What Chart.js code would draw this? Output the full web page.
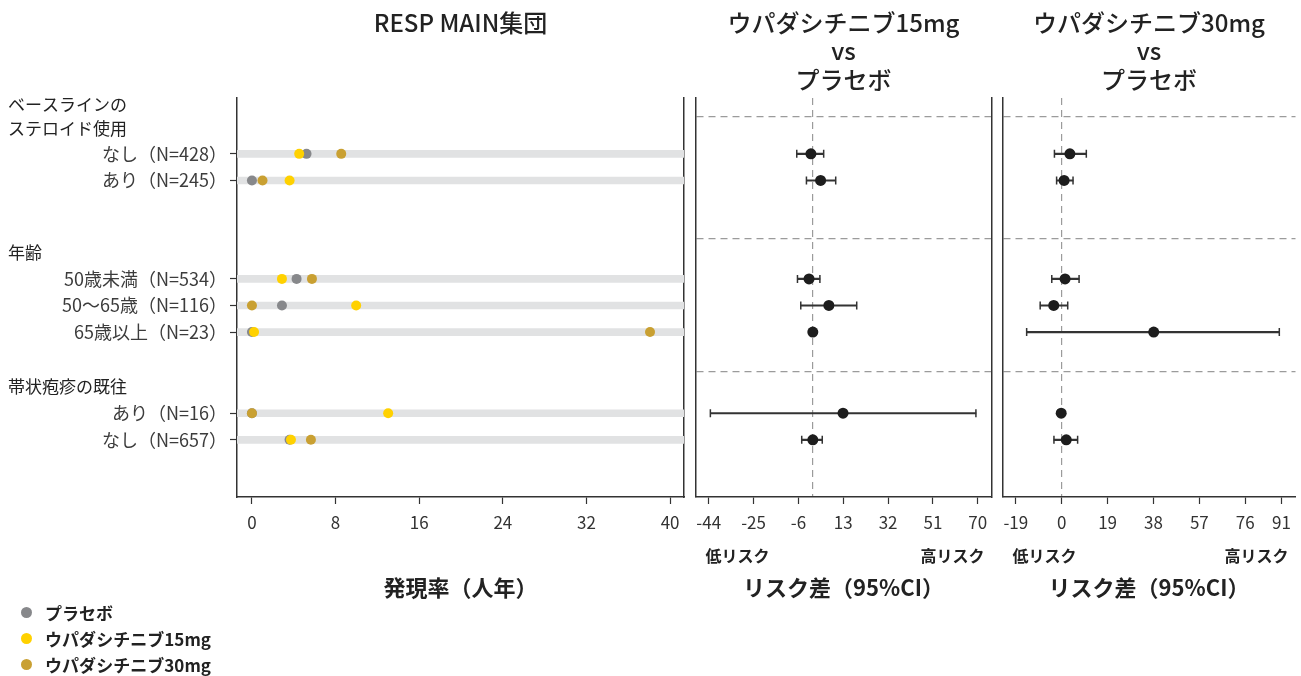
<!DOCTYPE html>
<html lang="ja">
<head>
<meta charset="utf-8">
<title>RESP MAIN集団</title>
<script src="https://cdn.jsdelivr.net/npm/chart.js@4.4.1/dist/chart.umd.min.js"></script>
<style>
  body { margin: 0; width: 1301px; height: 676px; background: #fff; position: relative; overflow: hidden;
         font-family: "Noto Sans CJK JP", "Noto Sans", sans-serif; }
  .panel { position: absolute; top: 0; }
  #legend { position: absolute; left: 21px; top: 600px; }
  #legend .item { display: flex; align-items: center; height: 25.8px; font-size: 17px; font-weight: bold; color: #222; }
  #legend .dot { width: 11px; height: 11px; border-radius: 50%; margin-right: 13px; }
</style>
</head>
<body>
<canvas id="rate-chart" class="panel" style="left:0" width="690" height="610"></canvas>
<canvas id="diff15-chart" class="panel" style="left:690px" width="307" height="610"></canvas>
<canvas id="diff30-chart" class="panel" style="left:997px" width="304" height="610"></canvas>
<div id="legend"></div>

<script>
// 行ラベルと位置（行単位）
const rowLabels = ['なし（N=428）', 'あり（N=245）', '50歳未満（N=534）', '50～65歳（N=116）', '65歳以上（N=23）', 'あり（N=16）', 'なし（N=657）'];
const rowY = [1.4, 2.4, 6.1, 7.1, 8.1, 11.15, 12.15];
const sectionTitles = [['ベースラインの', 'ステロイド使用'], ['年齢'], ['帯状疱疹の既往']];
const sectionTitleY = [0, 5.1, 10.15];
const sepY = [0, 4.6, 9.6];
const yMin = -0.7, yMax = 14.3;

// 凡例
const seriesNames = ['プラセボ', 'ウパダシチニブ15mg', 'ウパダシチニブ30mg'];
const seriesColors = ['#87888b', '#ffd100', '#c9a032'];

// 発現率（人年）
const placeboRate = [5.22, 0, 4.27, 2.87, 0, 0, 3.6];
const upa15Rate = [4.52, 3.6, 2.87, 9.97, 0.2, 13.03, 3.73];
const upa30Rate = [8.54, 1.01, 5.74, 0, 38.08, 0, 5.64];
const rateTicks = [0, 8, 16, 24, 32, 40];
const rateRange = [-1.43, 41.33];

// リスク差（95%CI）
const diff15Est = [-0.7, 3.4, -1.5, 6.9, 0.1, 12.9, 0.1];
const diff15Lo = [-6.7, -2.6, -6.4, -5.0, null, -43.3, -4.6];
const diff15Hi = [4.7, 9.8, 3.1, 18.7, null, 69.2, 4.1];
const diff15Ticks = [-44, -25, -6, 13, 32, 51, 70];
const diff15Range = [-49.6, 75.8];

const diff30Est = [3.4, 1.0, 1.4, -3.3, 38.1, -0.2, 1.9];
const diff30Lo = [-3.0, -2.1, -4.1, -8.9, -14.5, null, -3.2];
const diff30Hi = [10.2, 4.7, 7.2, 2.5, 90.1, null, 6.6];
const diff30Ticks = [-19, 0, 19, 38, 57, 76, 91];
const diff30Range = [-24.5, 96.8];

const rateTitle = 'RESP MAIN集団';
const diff15Title = ['ウパダシチニブ15mg', 'vs', 'プラセボ'];
const diff30Title = ['ウパダシチニブ30mg', 'vs', 'プラセボ'];
const rateAxisTitle = '発現率（人年）';
const diffAxisTitle = 'リスク差（95%CI）';
const riskLabels = ['低リスク', '高リスク'];

Chart.defaults.font.family = '"Noto Sans CJK JP", "Noto Sans", sans-serif';
Chart.defaults.color = '#333';

const axisHeight = 113;   // 下軸の高さ（プロット下端 497px）

// 区分見出し（左パネル）
const sectionTitlePlugin = {
    id: 'sectionTitles',
    afterDraw(chart) {
        const { ctx, scales: { y } } = chart;
        ctx.save();
        ctx.font = '17px "Noto Sans CJK JP"';
        ctx.fillStyle = '#222';
        ctx.textBaseline = 'middle';
        ctx.textAlign = 'left';
        sectionTitles.forEach((lines, i) => {
            const cy = y.getPixelForValue(sectionTitleY[i]);
            lines.forEach((line, j) => {
                ctx.fillText(line, 8, cy + (j - (lines.length - 1) / 2) * 23.5);
            });
        });
        ctx.restore();
    }
};

// 低リスク / 高リスク
const riskLabelPlugin = {
    id: 'riskLabels',
    afterDraw(chart) {
        const { ctx, chartArea } = chart;
        const y = chartArea.bottom + 59;
        ctx.save();
        ctx.font = 'bold 16px "Noto Sans CJK JP"';
        ctx.fillStyle = '#222';
        ctx.textBaseline = 'middle';
        ctx.textAlign = 'left';
        ctx.fillText(riskLabels[0], chartArea.left + 10, y);
        ctx.textAlign = 'right';
        ctx.fillText(riskLabels[1], chartArea.right - 7, y);
        ctx.restore();
    }
};

function titleOptions(text, lines) {
    return {
        display: true,
        fullSize: false,
        text: text,
        color: '#222',
        font: { size: 24, weight: '500', lineHeight: 1.2 },
        padding: { top: 8, bottom: 98 - 8 - 28.8 * lines }
    };
}

function bottomAxis(range, ticks, title) {
    return {
        type: 'linear',
        min: range[0],
        max: range[1],
        afterBuildTicks: s => { s.ticks = ticks.map(v => ({ value: v })); },
        afterFit: s => { s.height = axisHeight; s.paddingLeft = 0; s.paddingRight = 0; },
        grid: { drawOnChartArea: false, tickLength: 7, tickColor: '#333', tickWidth: 1.2 },
        border: { color: '#333', width: 1.5 },
        ticks: { color: '#333', font: { size: 17 }, padding: 8, autoSkip: false, maxRotation: 0 },
        title: { display: true, text: title, color: '#222', font: { size: 22, weight: 'bold', lineHeight: 1.2 }, padding: { top: 0, bottom: 8.8 } }
    };
}

const rightBorder = {
    type: 'linear',
    position: 'right',
    afterFit: s => { s.width = 0; },
    ticks: { display: false },
    grid: { display: false },
    border: { color: '#333', width: 1.5 }
};

function dotData(values) {
    return values.map((v, i) => ({ x: v, y: rowY[i] }));
}

// 左パネル：発現率
new Chart(document.getElementById('rate-chart'), {
    type: 'scatter',
    data: {
        datasets: [
            { label: seriesNames[1], data: dotData(upa15Rate), backgroundColor: seriesColors[1], pointBorderWidth: 0, pointRadius: 5, order: 0 },
            { label: seriesNames[2], data: dotData(upa30Rate), backgroundColor: seriesColors[2], pointBorderWidth: 0, pointRadius: 5, order: 1 },
            { label: seriesNames[0], data: dotData(placeboRate), backgroundColor: seriesColors[0], pointBorderWidth: 0, pointRadius: 5, order: 2 },
            {
                type: 'bar', indexAxis: 'y', label: 'band',
                data: rowY.map(y => ({ x: [rateRange[0], rateRange[1]], y: y })),
                backgroundColor: '#e1e2e3', borderWidth: 0, barThickness: 7, order: 3
            }
        ]
    },
    options: {
        responsive: false,
        devicePixelRatio: 1,
        animation: false,
        layout: { padding: { left: 0, right: 6, top: 0, bottom: 0 } },
        plugins: {
            legend: { display: false },
            tooltip: { enabled: false },
            title: titleOptions(rateTitle, 1)
        },
        scales: {
            x: bottomAxis(rateRange, rateTicks, rateAxisTitle),
            y: {
                type: 'linear',
                reverse: true,
                min: yMin,
                max: yMax,
                offset: false,
                afterBuildTicks: s => { s.ticks = rowY.map(v => ({ value: v })); },
                afterFit: s => { s.width = 237; s.paddingTop = 0; s.paddingBottom = 0; },
                grid: { drawOnChartArea: false, offset: false, tickLength: 7, tickColor: '#333', tickWidth: 1.2 },
                border: { color: '#333', width: 1.5 },
                ticks: { callback: (v, i) => rowLabels[i], color: '#3c3c3c', font: { size: 18 }, padding: 3, autoSkip: false }
            },
            yRight: rightBorder
        }
    },
    plugins: [sectionTitlePlugin]
});

// 中央・右パネル：リスク差
function makeDiffChart(id, est, lo, hi, ticks, range, title, padLeft, padRight, withRightBorder) {
    const ciRows = rowY.map((y, i) => ({ y: y, lo: lo[i], hi: hi[i] })).filter(r => r.lo !== null);
    const scales = {
        x: bottomAxis(range, ticks, diffAxisTitle),
        xZero: {
            type: 'linear',
            position: 'bottom',
            min: range[0],
            max: range[1],
            afterBuildTicks: s => { s.ticks = [{ value: 0 }]; },
            afterFit: s => { s.height = 0; s.paddingLeft = 0; s.paddingRight = 0; },
            ticks: { display: false },
            grid: { color: '#9b9b9b', lineWidth: 1.2, drawTicks: false },
            border: { display: false, dash: [7, 5] }
        },
        y: {
            type: 'linear',
            reverse: true,
            min: yMin,
            max: yMax,
            offset: false,
            afterBuildTicks: s => { s.ticks = sepY.map(v => ({ value: v })); },
            afterFit: s => { s.width = 0; s.paddingTop = 0; s.paddingBottom = 0; },
            ticks: { display: false },
            grid: { color: '#9b9b9b', lineWidth: 1.2, drawTicks: false, offset: false },
            border: { color: '#333', width: 1.5, dash: [7, 5] }
        }
    };
    if (withRightBorder) scales.yRight = rightBorder;

    return new Chart(document.getElementById(id), {
        type: 'scatter',
        data: {
            datasets: [
                { label: 'est', data: dotData(est), backgroundColor: '#1d1d1d', pointBorderWidth: 0, pointRadius: 5.5, order: 0 },
                {
                    label: 'cap',
                    data: ciRows.flatMap(r => [{ x: r.lo, y: r.y }, { x: r.hi, y: r.y }]),
                    pointStyle: 'line', pointRotation: 90, pointRadius: 4,
                    pointBorderColor: '#333', pointBorderWidth: 1.5, order: 1
                },
                {
                    type: 'bar', indexAxis: 'y', label: 'ci',
                    data: ciRows.map(r => ({ x: [r.lo, r.hi], y: r.y })),
                    backgroundColor: '#333', borderWidth: 0, barThickness: 1.5, order: 2
                }
            ]
        },
        options: {
            responsive: false,
            devicePixelRatio: 1,
            animation: false,
            layout: { padding: { left: padLeft, right: padRight, top: 0, bottom: 0 } },
            plugins: {
                legend: { display: false },
                tooltip: { enabled: false },
                title: titleOptions(title, title.length)
            },
            scales: scales
        },
        plugins: [riskLabelPlugin]
    });
}

makeDiffChart('diff15-chart', diff15Est, diff15Lo, diff15Hi, diff15Ticks, diff15Range, diff15Title, 3, 4, true);
makeDiffChart('diff30-chart', diff30Est, diff30Lo, diff30Hi, diff30Ticks, diff30Range, diff30Title, 5, 0, false);

// 凡例（HTML）
const legendBox = document.getElementById('legend');
seriesNames.forEach((name, i) => {
    const item = document.createElement('div');
    item.className = 'item';
    item.innerHTML = `<span class="dot" style="background:${seriesColors[i]}"></span><span>${name}</span>`;
    legendBox.appendChild(item);
});
</script>
</body>
</html>
